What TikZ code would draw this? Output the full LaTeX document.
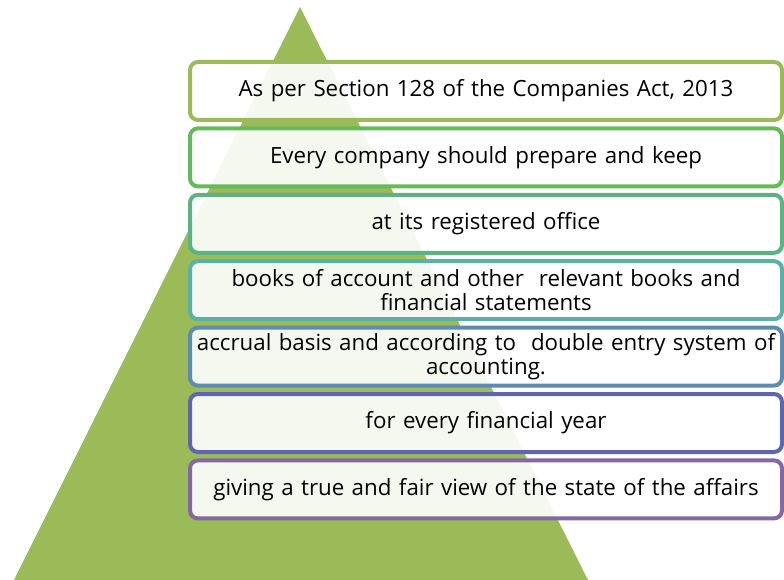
\documentclass[tikz,border=0pt]{standalone}
\usepackage{fontspec}
\setmainfont{Open Sans}
\definecolor{pyrgreen}{HTML}{9BBB59}
\definecolor{rowa}{HTML}{9BBB59}
\definecolor{rowb}{HTML}{68B85E}
\definecolor{rowc}{HTML}{5CB282}
\definecolor{rowd}{HTML}{5DB0A6}
\definecolor{rowe}{HTML}{5E8CB0}
\definecolor{rowf}{HTML}{6066AE}
\definecolor{rowg}{HTML}{8467A4}
\tikzset{
  row/.style={draw=#1, line width=4pt, rounded corners=8pt, fill=white,
    fill opacity=0.9, text opacity=1, minimum width=592pt, minimum height=58pt,
    text width=592pt, inner sep=0pt, align=center,
    font=\fontsize{22.3}{24}\selectfont}
}
\begin{document}
\begin{tikzpicture}[x=1pt,y=1pt]
            \useasboundingbox (0,0) rectangle (784,-580);
            \coordinate (Top) at (300,-7);
            \coordinate (BL) at (14,-580);
            \coordinate (BR) at (588,-580);
            \fill[pyrgreen] (Top) -- (BL) -- (BR) -- cycle;

            \node[row=rowa] (R1) at (486,-91) {As per Section 128 of the Companies Act, 2013};
            \node[row=rowb] (R2) at (486,-157.4) {Every company should prepare and keep};
            \node[row=rowc] (R3) at (486,-223.8) {at its registered office};
            \node[row=rowd] (R4) at (486,-290.2) {books of account and other\ \ relevant books and\\ financial statements};
            \node[row=rowe] (R5) at (486,-356.6) {accrual basis and according to\ \ double entry system of\\ accounting.};
            \node[row=rowf] (R6) at (486,-423) {for every financial year};
            \node[row=rowg] (R7) at (486,-489.4) {giving a true and fair view of the state of the affairs};
          \end{tikzpicture}
\end{document}
